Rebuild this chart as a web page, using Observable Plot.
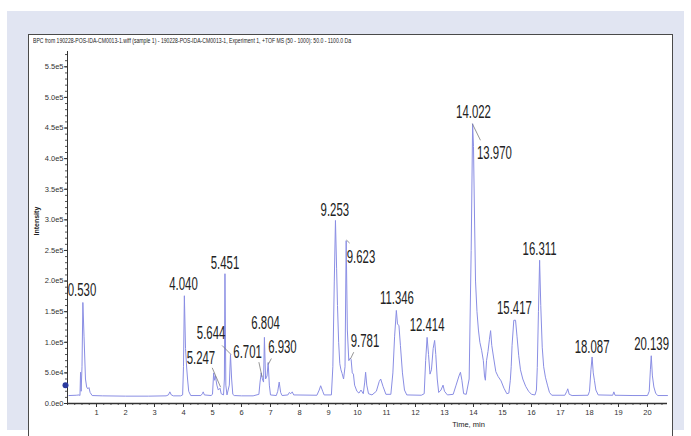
<!DOCTYPE html>
<html>
<head>
<meta charset="utf-8">
<script src="https://cdn.jsdelivr.net/npm/d3@7"></script>
<script src="https://cdn.jsdelivr.net/npm/@observablehq/plot@0.6"></script>
<style>
  html, body { margin: 0; padding: 0; background: #ffffff; }
  #wrap { position: relative; width: 691px; height: 436px; overflow: hidden; font-family: "Liberation Sans Narrow", "Liberation Sans", Arial, sans-serif; }
  #lav { position: absolute; left: 7px; top: 11px; width: 677px; height: 419px; background: #e1e5f2; }
  #panel { position: absolute; left: 28px; top: 34px; width: 643px; height: 420px; background: #ffffff; border: 1.5px solid #4a4a4a; border-bottom: none; }
  #title { position: absolute; left: 33px; top: 37px; font-size: 6.5px; color: #222; white-space: nowrap; transform-origin: 0 0; }
  #chart { position: absolute; left: 0; top: 0; }
</style>
</head>
<body>
<div id="wrap">
  <div id="lav"></div>
  <div id="panel"></div>
  <div id="title">BPC from 190228-POS-IDA-CM0013-1.wiff (sample 1) - 190228-POS-IDA-CM0013-1, Experiment 1, +TOF MS (50 - 1000): 50.0 - 1100.0 Da</div>
  <div id="chart"></div>
</div>
<script>
// ---- data ----
const timeMin = [
  0.05, 0.30, 0.40, 0.43, 0.45, 0.47, 0.50, 0.53, 0.57, 0.62, 0.66, 0.70, 0.74, 0.78, 0.85,
  1.20, 2.00, 2.80, 3.40, 3.48, 3.53, 3.58, 3.65, 3.90, 3.97, 4.00, 4.03, 4.07, 4.11, 4.14, 4.18, 4.25,
  4.60, 4.65, 4.68, 4.72, 4.95, 5.00, 5.04, 5.07, 5.10, 5.15, 5.20, 5.26, 5.30, 5.38, 5.41, 5.43, 5.46, 5.50,
  5.58, 5.62, 5.66, 5.70, 5.75, 6.00, 6.40, 6.60, 6.64, 6.68, 6.72, 6.76, 6.79, 6.83, 6.88, 6.92, 6.96, 7.00,
  7.20, 7.25, 7.30, 7.35, 7.40, 7.60, 7.65, 7.70, 7.75, 7.80, 8.60, 8.68, 8.73, 8.80, 8.85,
  9.10, 9.15, 9.20, 9.24, 9.28, 9.31, 9.35, 9.39, 9.43, 9.47, 9.52, 9.57, 9.61, 9.65, 9.70, 9.75, 9.78, 9.82,
  9.86, 9.90, 9.98, 10.05, 10.12, 10.20, 10.25, 10.28, 10.32, 10.38, 10.50, 10.65, 10.75, 10.80, 10.88, 10.98,
  11.15, 11.22, 11.28, 11.34, 11.38, 11.43, 11.48, 11.55, 11.62, 11.70, 12.20, 12.30, 12.35, 12.40, 12.45,
  12.50, 12.55, 12.61, 12.66, 12.70, 12.75, 12.80, 12.88, 12.95, 13.00, 13.10, 13.30, 13.40, 13.50, 13.55,
  13.60, 13.66, 13.75, 13.85, 13.92, 13.97, 14.00, 14.04, 14.07, 14.12, 14.17, 14.22, 14.28, 14.34, 14.38,
  14.41, 14.45, 14.50, 14.55, 14.59, 14.63, 14.69, 14.77, 14.85, 14.95, 15.05, 15.15, 15.22, 15.27, 15.30,
  15.33, 15.39, 15.45, 15.50, 15.56, 15.62, 15.70, 15.80, 15.90, 16.00, 16.12, 16.17, 16.20, 16.24, 16.28,
  16.32, 16.37, 16.42, 16.48, 16.55, 16.62, 16.70, 17.15, 17.22, 17.25, 17.30, 17.40, 17.95, 18.00, 18.05,
  18.09, 18.13, 18.17, 18.22, 18.30, 18.80, 18.84, 18.88, 19.50, 20.00, 20.06, 20.10, 20.13, 20.17, 20.22,
  20.28, 20.35, 20.69
];
const intensity = [
  13000, 13500, 14000, 13000, 51000, 20000, 60000, 165000, 110000, 40000, 27000, 24000, 26000, 18000, 13000,
  12500, 12000, 12000, 12500, 14000, 19000, 14000, 12500, 12500, 14000, 60000, 176000, 90000, 58000, 40000, 20000, 13000,
  13000, 16000, 19000, 14000, 13000, 15000, 50000, 38000, 45000, 30000, 22000, 25000, 16000, 14000, 40000, 212000, 30000, 14000,
  30000, 80000, 40000, 15000, 13000, 12500, 12500, 15000, 35000, 50000, 40000, 35000, 108000, 40000, 45000, 67000, 30000, 14000,
  13000, 20000, 35000, 18000, 13000, 14000, 18000, 16000, 19000, 14000, 13500, 22000, 29000, 20000, 14000,
  14000, 60000, 200000, 299000, 220000, 160000, 100000, 65000, 55000, 49000, 40000, 60000, 266000, 120000, 70000, 74000, 72000, 50000,
  48000, 30000, 20000, 17000, 22000, 16000, 35000, 51000, 30000, 16000, 14000, 20000, 36000, 40000, 28000, 15000,
  15000, 50000, 110000, 152000, 130000, 127000, 95000, 50000, 22000, 14000, 13500, 16000, 70000, 108000, 80000,
  48000, 55000, 90000, 103000, 80000, 40000, 18000, 22000, 30000, 20000, 14000, 15000, 30000, 45000, 51000,
  38000, 16000, 15000, 40000, 250000, 457000, 420000, 290000, 200000, 150000, 120000, 100000, 87000, 70000, 45000,
  38000, 70000, 85000, 105000, 119000, 95000, 76000, 52000, 44000, 37000, 25000, 16000, 17000, 38000, 60000,
  95000, 136000, 136000, 110000, 78000, 55000, 40000, 28000, 20000, 15000, 14000, 22000, 59000, 150000, 234000,
  160000, 92000, 60000, 43000, 30000, 18000, 13500, 13500, 20000, 24000, 15000, 13000, 13500, 20000, 55000,
  76000, 50000, 38000, 22000, 14000, 13500, 19000, 13500, 13000, 13000, 20000, 55000, 78000, 45000, 27000,
  17000, 13000, 13000
];

const peakLabels     = ["0.530", "4.040", "5.451", "5.247", "5.644", "6.701", "6.804", "6.930", "9.253", "9.623", "9.781", "11.346", "12.414", "14.022", "13.970", "15.417", "16.311", "18.087", "20.139"];
const peakLabelTime  = [0.50, 4.00, 5.43, 4.60, 4.95, 6.21, 6.83, 7.41, 9.22, 10.12, 10.26, 11.36, 12.40, 14.00, 14.72, 15.41, 16.28, 18.09, 20.14];
const peakLabelValue = [175000, 185000, 220000, 65000, 105000, 75000, 121000, 82000, 307000, 230000, 91500, 162000, 119000, 467000, 400000, 147000, 243000, 83000, 87000];

const leaderTime1  = [4.99, 5.33, 6.60, 7.03, 9.62, 9.87, 13.96];
const leaderValue1 = [58300, 94800, 67500, 73500, 267000, 83800, 457000];
const leaderTime2  = [5.28, 5.64, 6.71, 6.92, 9.73, 9.76, 14.24];
const leaderValue2 = [26600, 80000, 43000, 63700, 262000, 73000, 430000];

const markerTime = [0];
const markerValue = [30000];

const yTickValues = [0, 50000, 100000, 150000, 200000, 250000, 300000, 350000, 400000, 450000, 500000, 550000];
const yTickLabels = ["0.0e0", "5.0e4", "1.0e5", "1.5e5", "2.0e5", "2.5e5", "3.0e5", "3.5e5", "4.0e5", "4.5e5", "5.0e5", "5.5e5"];
const xTickValues = [1, 2, 3, 4, 5, 6, 7, 8, 9, 10, 11, 12, 13, 14, 15, 16, 17, 18, 19, 20];
const xTickLabels = ["1", "2", "3", "4", "5", "6", "7", "8", "9", "10", "11", "12", "13", "14", "15", "16", "17", "18", "19", "20"];
const xAxisTitle = "Time, min";
const yAxisTitle = "Intensity";

// ---- build tables ----
const trace = timeMin.map((t, i) => ({t, v: intensity[i]}));
const labels = peakLabels.map((s, i) => ({s, t: peakLabelTime[i], v: peakLabelValue[i]}));
const leaders = leaderTime1.map((t, i) => ({t1: t, v1: leaderValue1[i], t2: leaderTime2[i], v2: leaderValue2[i]}));
const marker = markerTime.map((t, i) => ({t, v: markerValue[i]}));
const yMinor = d3.range(0, 575000, 10000);
const xMinor = d3.range(0, 20.6, 0.25);

const font = '"Liberation Sans Narrow", "Liberation Sans", Arial, sans-serif';

const chart = Plot.plot({
  width: 691,
  height: 436,
  marginTop: 51,
  marginBottom: 33,
  marginLeft: 67,
  marginRight: 24,
  style: {background: "transparent", fontFamily: font, color: "#333"},
  x: {domain: [0, 20.69]},
  y: {domain: [0, 575000]},
  marks: [
    Plot.axisY(yMinor, {tickSize: 2, text: null, label: null, stroke: "#555"}),
    Plot.axisX(xMinor, {tickSize: 2, text: null, label: null, stroke: "#555"}),
    Plot.axisY(yTickValues, {tickSize: 3, tickPadding: 1, fontSize: 7.5, label: null, stroke: "#333",
      tickFormat: d => yTickLabels[yTickValues.indexOf(d)]}),
    Plot.axisX(xTickValues, {tickSize: 4, tickPadding: 2, fontSize: 7.5, label: null, stroke: "#333",
      tickFormat: d => xTickLabels[xTickValues.indexOf(d)]}),
    Plot.ruleX([0], {stroke: "#333", strokeWidth: 1}),
    Plot.ruleY([0], {stroke: "#333", strokeWidth: 1.5}),
    Plot.line(trace, {x: "t", y: "v", stroke: "#8a8ee4", strokeWidth: 1}),
    Plot.link(leaders, {x1: "t1", y1: "v1", x2: "t2", y2: "v2", stroke: "#7a7a7a", strokeWidth: 0.8}),
    Plot.text(labels, {x: "t", y: "v", text: "s", textAnchor: "middle", lineAnchor: "bottom", fontSize: 19, fill: "#222"}),
    Plot.dot(marker, {x: "t", y: "v", r: 3, fill: "#2b3b9e", dx: -2}),
    Plot.text([yAxisTitle], {frameAnchor: "left", rotate: -90, dx: -31, dy: 8, fontSize: 7, fontWeight: "bold", fill: "#222"}),
    Plot.text([xAxisTitle], {frameAnchor: "bottom", dx: 101, dy: 23, fontSize: 7.5, fill: "#222"})
  ]
});
document.getElementById("chart").appendChild(chart);

// condensed (tall, narrow) look of the peak labels: squeeze horizontally about each anchor
const squeeze = 0.6;
chart.querySelectorAll("text").forEach(el => {
  if (!peakLabels.includes(el.textContent.trim())) return;
  const tr = el.getAttribute("transform") || "";
  const m = tr.match(/translate\(\s*([-\d.]+)[ ,]+([-\d.]+)\s*\)/);
  if (m) {
    el.setAttribute("transform", `${tr} scale(${squeeze},1)`);
  } else {
    const x = +el.getAttribute("x") || 0;
    el.setAttribute("transform", `translate(${x},0) scale(${squeeze},1) translate(${-x},0)`);
  }
});
// fit the title to its width
const title = document.getElementById("title");
const tw = title.getBoundingClientRect().width;
title.style.transform = `scaleX(${318 / tw})`;
</script>
</body>
</html>
